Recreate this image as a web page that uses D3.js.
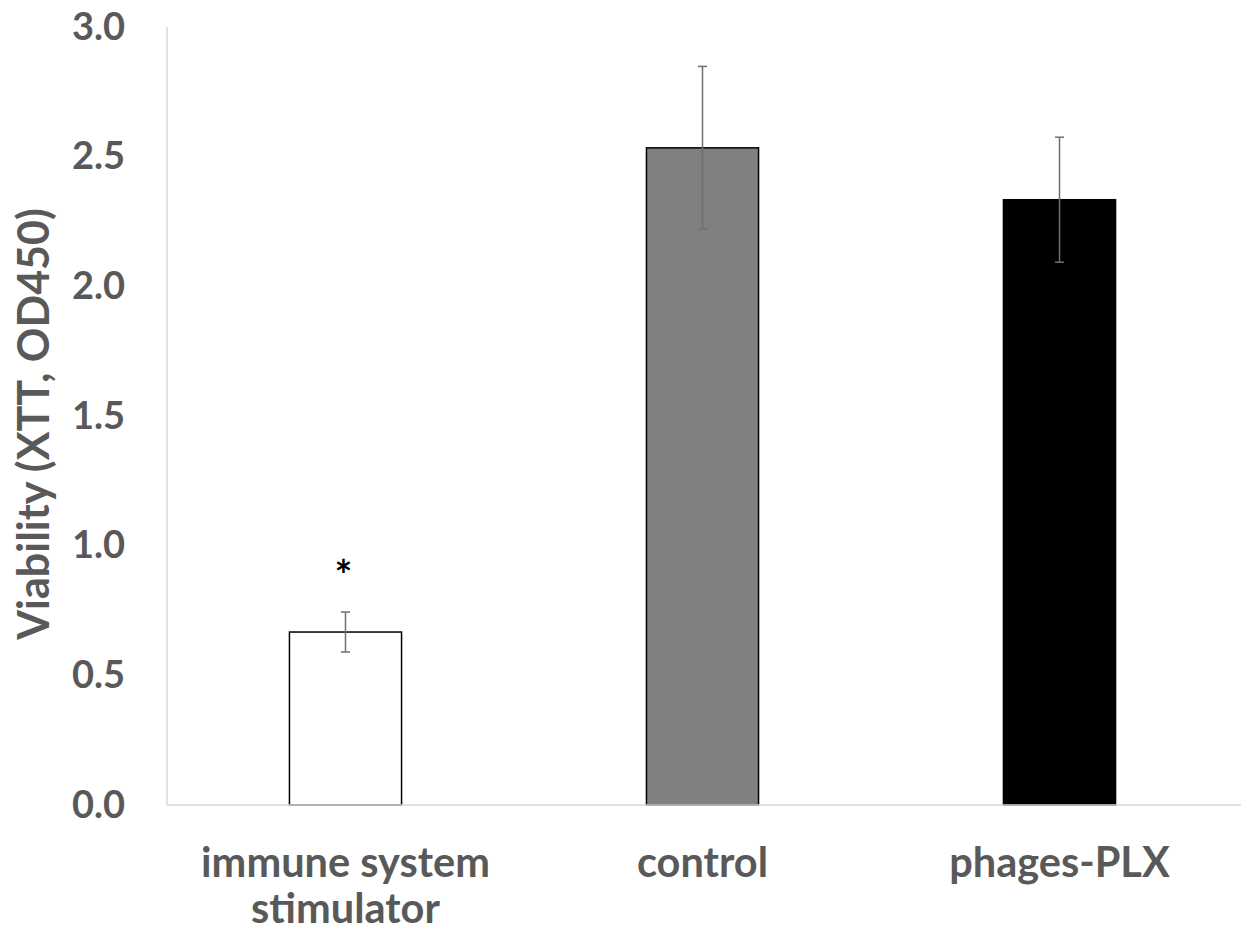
<!DOCTYPE html>
<html>
<head>
<meta charset="utf-8">
<script src="https://cdn.jsdelivr.net/npm/d3@7/dist/d3.min.js"></script>
<style>
  html, body { margin: 0; padding: 0; background: #fff; }
  svg { display: block; }
</style>
</head>
<body>
<svg id="chart" width="1241" height="932"></svg>
<script>
const categories = ["immune system|stimulator", "control", "phages-PLX"];
const values = [0.667, 2.534, 2.334];
const errors = [0.077, 0.314, 0.241];
const fills = ["#ffffff", "#808080", "#000000"];
const significance = ["*", "", ""];
const yTicks = [0, 0.5, 1.0, 1.5, 2.0, 2.5, 3.0];
const yTitle = "Viability (XTT, OD450)";

const W = 1241, H = 932;
const margin = { left: 167, right: 3, top: 27, bottom: 127 };
const svg = d3.select("#chart");
const font = "Lato, 'Open Sans', sans-serif";
const textColor = "#595959";

const x = d3.scaleBand()
  .domain(categories)
  .range([margin.left, W - margin.right])
  .paddingInner(0.686)
  .paddingOuter(0.343);

const y = d3.scaleLinear()
  .domain([0, 3])
  .range([H - margin.bottom, margin.top]);

// Y axis line
svg.append("line")
  .attr("x1", margin.left).attr("x2", margin.left)
  .attr("y1", y(3)).attr("y2", y(0))
  .attr("stroke", "#d9d9d9").attr("stroke-width", 1.5);

// Y tick labels
const yAxis = d3.axisLeft(y).tickValues(yTicks).tickFormat(d3.format(".1f")).tickSize(0).tickPadding(42);
const gy = svg.append("g").attr("transform", `translate(${margin.left},0)`).call(yAxis);
gy.select(".domain").remove();
gy.selectAll("text")
  .attr("font-family", font).attr("font-weight", "bold")
  .attr("font-size", 38).attr("fill", textColor);

// Bars
svg.append("g").selectAll("rect")
  .data(values)
  .join("rect")
  .attr("x", (d, i) => x(categories[i]))
  .attr("width", x.bandwidth())
  .attr("y", d => y(d))
  .attr("height", d => y(0) - y(d))
  .attr("fill", (d, i) => fills[i])
  .attr("stroke", "#000").attr("stroke-width", 1.5);

// X axis line (baseline)
svg.append("line")
  .attr("x1", margin.left).attr("x2", W)
  .attr("y1", y(0)).attr("y2", y(0))
  .attr("stroke", "#d9d9d9").attr("stroke-width", 1.5);

// Error bars
const eb = svg.append("g").attr("stroke", "#6f6f6f").attr("stroke-width", 1.5);
values.forEach((v, i) => {
  const cx = x(categories[i]) + x.bandwidth() / 2;
  const top = y(v + errors[i]), bot = y(v - errors[i]);
  eb.append("line").attr("x1", cx).attr("x2", cx).attr("y1", top).attr("y2", bot);
  eb.append("line").attr("x1", cx - 4.5).attr("x2", cx + 4.5).attr("y1", top).attr("y2", top);
  eb.append("line").attr("x1", cx - 4.5).attr("x2", cx + 4.5).attr("y1", bot).attr("y2", bot);
});

// Significance markers
svg.append("g").selectAll("text")
  .data(significance)
  .join("text")
  .attr("x", (d, i) => x(categories[i]) + x.bandwidth() / 2 - 2)
  .attr("y", (d, i) => y(values[i] + errors[i]) - 21)
  .attr("text-anchor", "middle")
  .attr("font-family", font).attr("font-weight", "bold")
  .attr("font-size", 42).attr("fill", "#000")
  .text(d => d);

// X category labels
const xl = svg.append("g");
categories.forEach(c => {
  const lines = c.split("|");
  const t = xl.append("text")
    .attr("x", x(c) + x.bandwidth() / 2)
    .attr("y", 877)
    .attr("text-anchor", "middle")
    .attr("font-family", font).attr("font-weight", "bold")
    .attr("font-size", 41.5).attr("fill", textColor);
  lines.forEach((l, j) => {
    t.append("tspan").attr("x", x(c) + x.bandwidth() / 2).attr("dy", j === 0 ? 0 : 46).text(l);
  });
});

// Y title
svg.append("text")
  .attr("transform", `translate(49, ${(y(0) + y(3)) / 2 + 8}) rotate(-90)`)
  .attr("text-anchor", "middle")
  .attr("font-family", font).attr("font-weight", "bold")
  .attr("font-size", 43).attr("fill", textColor)
  .text(yTitle);
</script>
</body>
</html>
